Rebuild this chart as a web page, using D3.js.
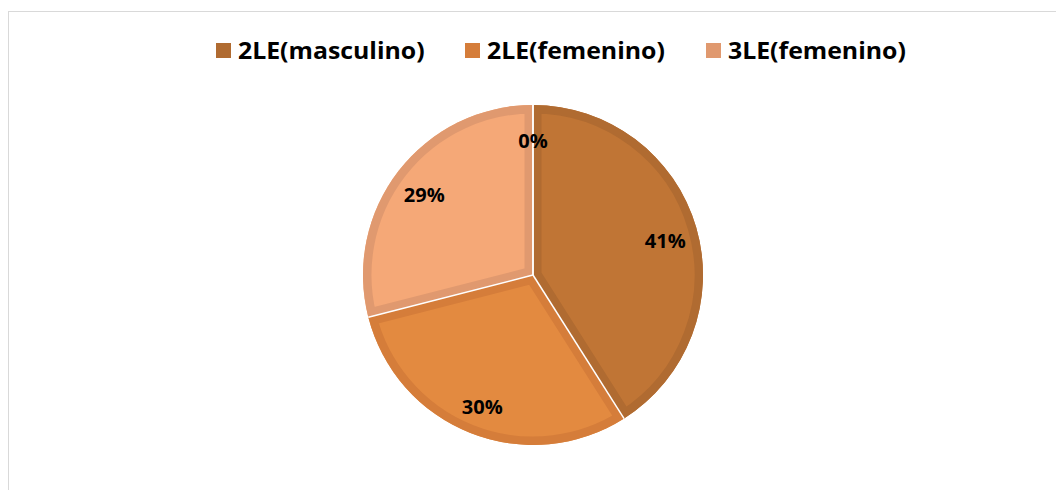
<!DOCTYPE html>
<html>
<head>
<meta charset="utf-8">
<script src="https://cdn.jsdelivr.net/npm/d3@7"></script>
<style>
  body { margin: 0; background: #fff; }
  text { font-family: "Open Sans", "Liberation Sans", sans-serif; font-weight: bold; fill: #000; }
</style>
</head>
<body>
<div id="chart"></div>
<script>
// categories and values (last point has no name, it only shows as 0%)
var categories = ["2LE(masculino)", "2LE(femenino)", "3LE(femenino)", ""];
var values = [41, 30, 29, 0];
var labels = ["41%", "30%", "29%", "0%"];

var fills = ["#C07535", "#E38A40", "#F5A877", "#F5A877"];
var borders = ["#B06B31", "#D57D3A", "#E0996F", "#E0996F"];

var width = 1056, height = 490;
var cx = 533, cy = 275, r = 170;

var svg = d3.select("#chart").append("svg")
    .attr("width", width)
    .attr("height", height);

// chart area border
svg.append("rect")
    .attr("x", 8.5).attr("y", 11.5)
    .attr("width", width + 20).attr("height", height + 20)
    .attr("fill", "#fff")
    .attr("stroke", "#D9D9D9");

var pie = d3.pie().sort(null).value(function(d) { return d; });
var arcs = pie(values);

var arc = d3.arc().innerRadius(0).outerRadius(r);
var labelArc = d3.arc().innerRadius(r * 0.81).outerRadius(r * 0.81);

var g = svg.append("g").attr("transform", "translate(" + cx + "," + cy + ")");
var defs = svg.append("defs");

arcs.forEach(function(d, i) {
    if (d.endAngle - d.startAngle <= 0) return;
    defs.append("clipPath").attr("id", "clip" + i)
        .append("path").attr("d", arc(d));
    var slice = g.append("g");
    slice.append("path")
        .attr("d", arc(d))
        .attr("fill", fills[i]);
    //inner darker rim, clipped so only the inside half of the stroke shows
    slice.append("path")
        .attr("d", arc(d))
        .attr("fill", "none")
        .attr("stroke", borders[i])
        .attr("stroke-width", 17)
        .attr("clip-path", "url(#clip" + i + ")");
});

// thin white separators between slices
arcs.forEach(function(d) {
    var a = d.startAngle;
    g.append("line")
        .attr("x1", 0).attr("y1", 0)
        .attr("x2", r * Math.sin(a)).attr("y2", -r * Math.cos(a))
        .attr("stroke", "#fff")
        .attr("stroke-width", 1.5);
});

// data labels
g.selectAll(".lbl")
    .data(arcs)
    .enter().append("text")
    .attr("class", "lbl")
    .attr("transform", function(d) { return "translate(" + labelArc.centroid(d) + ")"; })
    .attr("text-anchor", "middle")
    .attr("dy", "0.55em")
    .style("font-size", "20px")
    .text(function(d, i) { return labels[i]; });

// legend
var legendX = [216, 465, 706];
var legend = svg.append("g");
categories.forEach(function(c, i) {
    if (c === "") return;
    var item = legend.append("g").attr("transform", "translate(" + legendX[i] + ",43)");
    item.append("rect")
        .attr("width", 15).attr("height", 15)
        .attr("fill", borders[i]);
    item.append("text")
        .attr("transform", "translate(22,16) scale(1.08,1)")
        .style("font-size", "23px")
        .text(c);
});
</script>
</body>
</html>
